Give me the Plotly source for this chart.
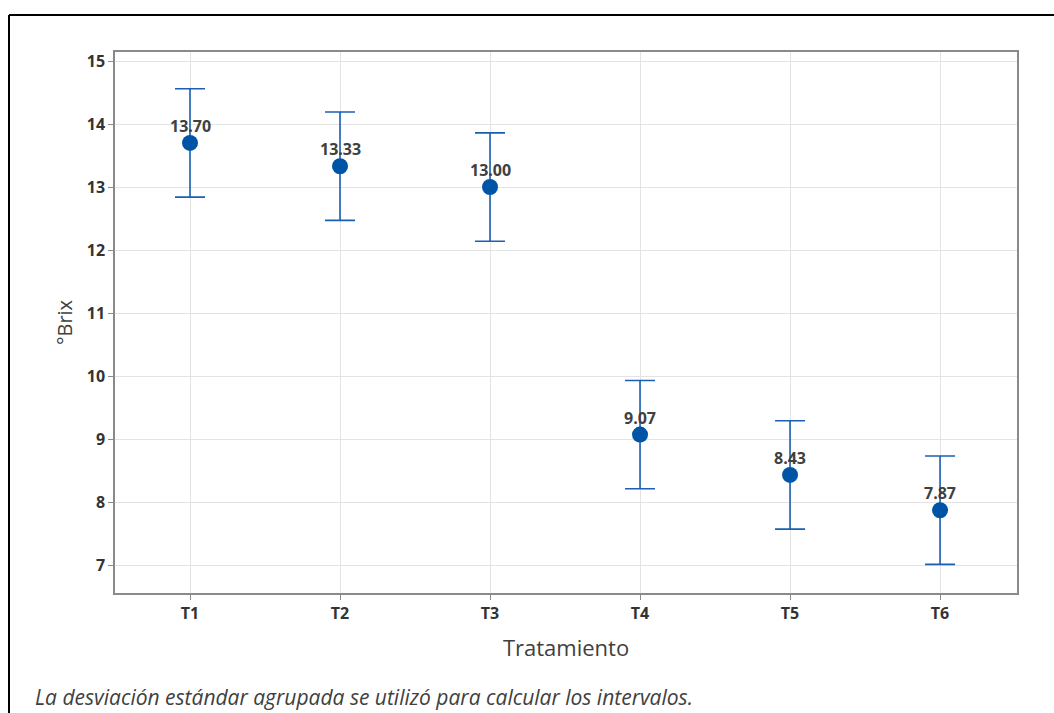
import plotly.graph_objects as go

categories = ["T1", "T2", "T3", "T4", "T5", "T6"]
means = [13.70, 13.33, 13.00, 9.07, 8.43, 7.87]
ci_half = [0.86, 0.86, 0.86, 0.86, 0.86, 0.86]
labels = ["13.70", "13.33", "13.00", "9.07", "8.43", "7.87"]
y_ticks = [7, 8, 9, 10, 11, 12, 13, 14, 15]

W, H = 1054, 713
L, R, T, B = 115, 37, 52, 120
pw, ph = W - L - R, H - T - B

def px(x):
    return (x - L) / pw

def py(y):
    return (H - B - y) / ph

xpos = list(range(1, len(categories) + 1))

fig = go.Figure()
fig.add_trace(go.Scatter(
    x=xpos, y=means, mode="markers",
    marker=dict(color="#0054a6", size=16, symbol="circle"),
    error_y=dict(type="data", array=ci_half, visible=True,
                 color="#1a5fb4", thickness=1.6, width=15),
    cliponaxis=False, showlegend=False, hoverinfo="skip",
))

annotations = [
    dict(x=xv, y=m, text=lab, xref="x", yref="y", showarrow=False,
         xanchor="center", yanchor="bottom", yshift=4,
         font=dict(family="Open Sans", size=16, color="#404040", weight="bold"))
    for xv, m, lab in zip(xpos, means, labels)
]
annotations.append(
    dict(text="<i>La desviación estándar agrupada se utilizó para calcular los intervalos.</i>",
         xref="paper", yref="paper", x=px(33), y=py(697),
         xanchor="left", yanchor="middle", showarrow=False,
         font=dict(size=21, color="#404040", family="Open Sans"))
)

fig.update_layout(
    width=W, height=H,
    margin=dict(l=L, r=R, t=T, b=B),
    paper_bgcolor="white", plot_bgcolor="white",
    font=dict(family="Open Sans", color="#404040"),
    xaxis=dict(
        range=[0.5, 6.513], tickvals=xpos, ticktext=categories,
        showgrid=True, gridcolor="#e3e3e3", gridwidth=1,
        showline=True, linecolor="#8a8a8a", linewidth=1.5, mirror=True,
        ticks="outside", ticklen=5, tickcolor="#8a8a8a",
        tickfont=dict(size=16, color="#333333", weight="bold"),
        title=dict(text="Tratamiento", font=dict(size=22, color="#404040"), standoff=18),
        zeroline=False,
    ),
    yaxis=dict(
        range=[6.556, 15.143], tickvals=y_ticks,
        showgrid=True, gridcolor="#e3e3e3", gridwidth=1,
        showline=True, linecolor="#8a8a8a", linewidth=1.5, mirror=True,
        ticks="outside", ticklen=5, tickcolor="#8a8a8a",
        tickfont=dict(size=16, color="#333333", weight="bold"),
        title=dict(text="°Brix", font=dict(size=20, color="#404040"), standoff=9),
        zeroline=False,
    ),
    shapes=[
        dict(type="line", xref="paper", yref="paper",
             x0=px(9), x1=px(W + 5), y0=py(15), y1=py(15),
             line=dict(color="black", width=2)),
        dict(type="line", xref="paper", yref="paper",
             x0=px(9), x1=px(9), y0=py(15), y1=py(H + 5),
             line=dict(color="black", width=2)),
    ],
    annotations=annotations,
)

fig.write_html("out.html")
